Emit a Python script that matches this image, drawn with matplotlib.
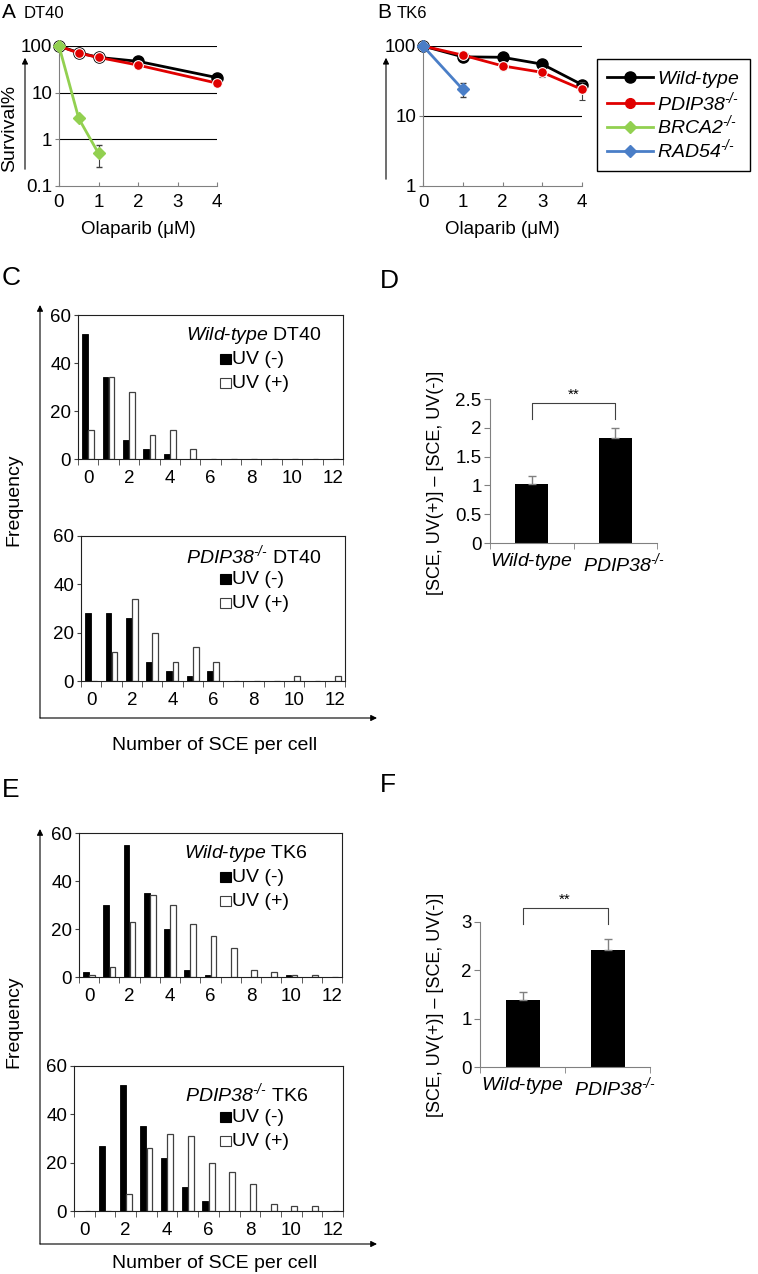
import numpy as np
import matplotlib
matplotlib.use("Agg")
import matplotlib.pyplot as plt
from matplotlib.patches import Rectangle
from matplotlib.lines import Line2D

plt.rcParams['font.family'] = ['Liberation Sans', 'DejaVu Sans']
plt.rcParams['mathtext.fontset'] = 'custom'
plt.rcParams['mathtext.rm'] = 'Liberation Sans:italic'
plt.rcParams['mathtext.it'] = 'Liberation Sans:italic'
plt.rcParams['mathtext.bf'] = 'Liberation Sans:bold'

# ---- survival data (A: DT40, B: TK6)
dose_a = [0, 0.5, 1, 2, 4]
dt40_wt = [100, 72, 57, 47, 21]
dt40_wt_err = [0, 4, 6, 4, 2]
dt40_pdip = [100, 70, 57, 39, 16]
dt40_pdip_err = [0, 5, 8, 3, 2]
dose_brca = [0, 0.5, 1]
dt40_brca2 = [100, 2.8, 0.5]
dt40_brca2_err = [[0, 0.2, 0.24], [0, 0.2, 0.25]]

dose_b = [0, 1, 2, 3, 4]
tk6_wt = [100, 70, 69, 55, 28]
tk6_wt_err = [0, 8, 4, 5, 4]
tk6_pdip = [100, 74, 52, 42, 24]
tk6_pdip_err = [0, 5, 6, 6, 7]
dose_rad = [0, 1]
tk6_rad54 = [100, 24]
tk6_rad54_err = [0, 5.5]

# ---- SCE histograms (C: DT40, E: TK6)
sce = np.arange(13)
dt40_wt_uvm = [52, 34, 8, 4, 2, 0, 0, 0, 0, 0, 0, 0, 0]
dt40_wt_uvp = [12, 34, 28, 10, 12, 4, 0, 0, 0, 0, 0, 0, 0]
dt40_ko_uvm = [28, 28, 26, 8, 4, 2, 4, 0, 0, 0, 0, 0, 0]
dt40_ko_uvp = [0, 12, 34, 20, 8, 14, 8, 0, 0, 0, 2, 0, 2]
tk6_wt_uvm = [2, 30, 55, 35, 20, 3, 1, 0, 0, 0, 1, 0, 0]
tk6_wt_uvp = [1, 4, 23, 34, 30, 22, 17, 12, 3, 2, 1, 1, 0]
tk6_ko_uvm = [0, 27, 52, 35, 22, 10, 4, 0, 0, 0, 0, 0, 0]
tk6_ko_uvp = [0, 0, 7, 26, 32, 31, 20, 16, 11, 3, 2, 2, 0]

# ---- SCE induction (D: DT40, F: TK6)
KO = u'\u2010/\u2010'
WT_LABEL = r"$\mathrm{Wild}$-$\mathrm{type}$"
PDIP_LABEL = r"$\mathrm{PDIP38}^{%s}$" % KO
geno_labels = [WT_LABEL, PDIP_LABEL]
d_vals = [1.02, 1.82]
d_err = [0.15, 0.18]
f_vals = [1.38, 2.43]
f_err = [0.17, 0.21]

W, H = 758, 1274
fig = plt.figure(figsize=(W / 100, H / 100), dpi=100)

bg = fig.add_axes([0, 0, 1, 1])
bg.set_xlim(0, W)
bg.set_ylim(H, 0)
bg.axis('off')
bg.set_zorder(10)


def add_ax(l, t, r, b):
    return fig.add_axes([l / W, 1 - b / H, (r - l) / W, (b - t) / H])


GRAY = '#808080'
FS = 13.5


def survival_axes(ax, ymin, grid):
    ax.set_yscale('log')
    ax.set_ylim(ymin, 100)
    ax.set_xlim(0, 4)
    for s in ['top', 'right']:
        ax.spines[s].set_visible(False)
    for s in ['left', 'bottom']:
        ax.spines[s].set_color(GRAY)
    for g in grid:
        ax.axhline(g, color='k', lw=0.8, zorder=1)
    ticks = [t for t in [0.1, 1, 10, 100] if t >= ymin]
    ax.set_yticks(ticks)
    ax.set_yticklabels([('%g' % t) for t in ticks])
    ax.minorticks_off()
    ax.set_xticks([0, 1, 2, 3, 4])
    ax.tick_params(axis='y', length=3, direction='out', color=GRAY, labelsize=FS, pad=2)
    ax.tick_params(axis='x', length=3, direction='in', color=GRAY, labelsize=FS, pad=6)
    ax.set_xlabel(u'Olaparib (\u03bcM)', fontsize=FS, labelpad=7)


# A
axA = add_ax(59, 46, 217, 186)
survival_axes(axA, 0.1, [1, 10, 100])
axA.errorbar(dose_a, dt40_wt, yerr=dt40_wt_err, color='k', lw=2, marker='o', ms=8,
             ecolor='#404040', elinewidth=0.8, capsize=2, clip_on=False, zorder=3)
axA.errorbar(dose_a, dt40_pdip, yerr=dt40_pdip_err, color='#E00000', lw=2, marker='o', ms=7,
             mec='white', mew=0.8, ecolor='#404040', elinewidth=0.8, capsize=2, clip_on=False, zorder=4)
axA.errorbar(dose_brca, dt40_brca2, yerr=dt40_brca2_err, color='#92D050', lw=2, marker='D', ms=6,
             ecolor='#404040', elinewidth=0.8, capsize=2, clip_on=False, zorder=5)

# B
axB = add_ax(423, 46, 582, 186)
survival_axes(axB, 1, [10, 100])
axB.errorbar(dose_b, tk6_wt, yerr=tk6_wt_err, color='k', lw=2, marker='o', ms=8,
             ecolor='#404040', elinewidth=0.8, capsize=2, clip_on=False, zorder=3)
axB.errorbar(dose_b, tk6_pdip, yerr=tk6_pdip_err, color='#E00000', lw=2, marker='o', ms=7,
             mec='white', mew=0.8, ecolor='#404040', elinewidth=0.8, capsize=2, clip_on=False, zorder=4)
axB.errorbar(dose_rad, tk6_rad54, yerr=tk6_rad54_err, color='#4A7EC7', lw=2, marker='D', ms=6,
             ecolor='#404040', elinewidth=0.8, capsize=2, clip_on=False, zorder=5)

handles = [Line2D([], [], color='k', lw=2, marker='o', ms=8),
           Line2D([], [], color='#E00000', lw=2, marker='o', ms=7),
           Line2D([], [], color='#92D050', lw=2, marker='D', ms=6),
           Line2D([], [], color='#4A7EC7', lw=2, marker='D', ms=6)]
leg_labels = [WT_LABEL, PDIP_LABEL,
              r"$\mathrm{BRCA2}^{%s}$" % (u'\u2010 /\u2010'), r"$\mathrm{RAD54}^{%s}$" % (u'\u2010 /\u2010')]
leg = fig.legend(handles, leg_labels, loc='upper left', bbox_to_anchor=(597 / W, 1 - 59 / H),
                 fontsize=14, handlelength=2.4, handletextpad=0.2, labelspacing=0.0,
                 borderpad=0.5, borderaxespad=0, fancybox=False, edgecolor='k', framealpha=1)
leg.get_frame().set_linewidth(1)

bg.text(2, 13, 'A', fontsize=15, va='center')
bg.text(24, 14, 'DT40', fontsize=12, va='center')
bg.text(377, 13, 'B', fontsize=15, va='center')
bg.text(397, 14, 'TK6', fontsize=12, va='center')
bg.text(10, 128, 'Survival%', fontsize=14, rotation=90, ha='center', va='center')
bg.annotate('', xy=(25, 55), xytext=(25, 172),
            arrowprops=dict(arrowstyle='-|>', color='k', lw=0.8, mutation_scale=9))
bg.annotate('', xy=(386, 55), xytext=(386, 182),
            arrowprops=dict(arrowstyle='-|>', color='k', lw=0.8, mutation_scale=9))


def hist_axes(ax, uvm, uvp):
    ax.bar(sce - 0.15, uvm, width=0.28, color='k', edgecolor='k', lw=0.6, zorder=2)
    ax.bar(sce + 0.15, uvp, width=0.28, color='white', edgecolor='#404040', lw=0.9, zorder=2)
    ax.set_xlim(-0.5, 12.5)
    ax.set_ylim(0, 60)
    ax.set_yticks([0, 20, 40, 60])
    ax.set_xticks(range(0, 13, 2))
    ax.set_xticks(np.arange(-0.5, 13, 1), minor=True)
    ax.tick_params(axis='x', which='major', length=0, labelsize=FS, pad=8)
    ax.tick_params(axis='x', which='minor', length=4, direction='out', color='#404040')
    ax.tick_params(axis='y', length=3, direction='out', color='#404040', labelsize=FS, pad=2)
    for s in ax.spines.values():
        s.set_color('#202020')
        s.set_linewidth(0.8)


def hist_legend(title, x_right, y0):
    bg.text(x_right, y0, title, fontsize=14, ha='right', va='center')
    bg.add_patch(Rectangle((220, y0 + 19), 11, 10, facecolor='k', edgecolor='k', lw=0.8))
    bg.text(232, y0 + 24, 'UV (-)', fontsize=14, va='center')
    bg.add_patch(Rectangle((220, y0 + 43), 11, 10, facecolor='white', edgecolor='#404040', lw=0.8))
    bg.text(232, y0 + 48, 'UV (+)', fontsize=14, va='center')


# C
axC1 = add_ax(78, 315, 343, 459)
hist_axes(axC1, dt40_wt_uvm, dt40_wt_uvp)
hist_legend(WT_LABEL + " DT40", 322, 335)
axC2 = add_ax(81, 536, 345, 681)
hist_axes(axC2, dt40_ko_uvm, dt40_ko_uvp)
hist_legend(PDIP_LABEL + " DT40", 321, 555)

# E
axE1 = add_ax(79, 833, 342, 977)
hist_axes(axE1, tk6_wt_uvm, tk6_wt_uvp)
hist_legend(WT_LABEL + " TK6", 308, 853)
axE2 = add_ax(74, 1066, 343, 1211)
hist_axes(axE2, tk6_ko_uvm, tk6_ko_uvp)
hist_legend(PDIP_LABEL + " TK6", 308, 1093)

for ytop, ybot, fy, ny in [(305, 718, 500, 745), (829, 1244, 1022, 1263)]:
    bg.annotate('', xy=(40, ytop), xytext=(40, ybot),
                arrowprops=dict(arrowstyle='-|>', color='k', lw=0.8, mutation_scale=9, shrinkA=0, shrinkB=0))
    bg.annotate('', xy=(377, ybot), xytext=(40, ybot),
                arrowprops=dict(arrowstyle='-|>', color='k', lw=0.8, mutation_scale=9, shrinkA=0, shrinkB=0))
    bg.text(14, fy, 'Frequency', fontsize=14, rotation=90, ha='center', va='center')
    bg.text(215, ny, 'Number of SCE per cell', fontsize=14, ha='center', va='center')

bg.text(2, 278, 'C', fontsize=19, va='center')
bg.text(380, 281, 'D', fontsize=19, va='center')
bg.text(2, 790, 'E', fontsize=19, va='center')
bg.text(380, 785, 'F', fontsize=19, va='center')


def induction_axes(ax, vals, err, ymax, step, br_top, br_leg, star_y, ko_shift):
    x = np.arange(2)
    ax.bar(x, vals, width=0.4, color='k', zorder=2)
    ax.errorbar(x, vals, yerr=[[0, 0], err], fmt='none', ecolor=GRAY, elinewidth=1, capsize=3, zorder=3)
    ax.set_xlim(-0.5, 1.5)
    ax.set_ylim(0, ymax)
    ax.set_yticks(np.arange(0, ymax + 0.01, step))
    ax.set_yticklabels([('%g' % t) for t in np.arange(0, ymax + 0.01, step)])
    # label of the knockout sits a little right of its bar, as in the original
    ax.set_xticks([0, 1 + ko_shift])
    ax.set_xticklabels(geno_labels)
    ax.set_xticks([-0.5, 0.5, 1.5], minor=True)
    ax.tick_params(axis='x', which='major', length=0, labelsize=14, pad=6)
    ax.tick_params(axis='x', which='minor', length=4, direction='out', color=GRAY)
    ax.tick_params(axis='y', length=4, direction='out', color=GRAY, labelsize=FS, pad=2)
    for s in ['top', 'right']:
        ax.spines[s].set_visible(False)
    for s in ['left', 'bottom']:
        ax.spines[s].set_color(GRAY)
    ax.plot([0, 0, 1, 1], [br_leg, br_top, br_top, br_leg], color='#404040', lw=0.8, clip_on=False)
    ax.text(0.5, star_y, '**', fontsize=11, ha='center', va='center')


axD = add_ax(490, 399, 657, 543)
induction_axes(axD, d_vals, d_err, 2.5, 0.5, 2.43, 2.15, 2.57, 0.1)
axF = add_ax(480, 922, 650, 1067)
induction_axes(axF, f_vals, f_err, 3, 1, 3.28, 2.95, 3.47, 0.09)

bg.text(435, 483, u'[SCE, UV(+)] \u2013 [SCE, UV(-)]', fontsize=13, rotation=90, ha='center', va='center')
bg.text(435, 1005, u'[SCE, UV(+)] \u2013 [SCE, UV(-)]', fontsize=13, rotation=90, ha='center', va='center')

fig.savefig('out.png', dpi=100)
